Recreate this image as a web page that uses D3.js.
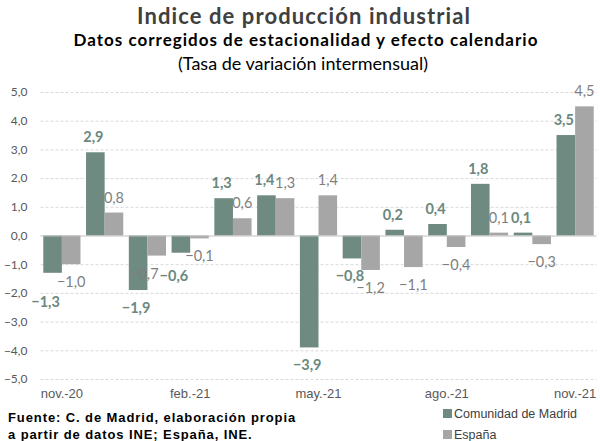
<html>
<head>
<meta charset="UTF-8">
<script src="https://cdn.jsdelivr.net/npm/d3@7"></script>
<style>
  body { margin: 0; background: #fff; }
  svg { display: block; }
  .grid line { stroke: #d9d9d9; stroke-dasharray: 3,2; }
  .tick text { fill: #595959; }
</style>
</head>
<body>
<script>
  // Months and series (tasa intermensual, %)
  let months = ["nov.-20","dic.-20","ene.-21","feb.-21","mar.-21","abr.-21","may.-21",
                "jun.-21","jul.-21","ago.-21","sep.-21","oct.-21","nov.-21"];
  let madrid = [-1.3, 2.9, -1.9, -0.6, 1.3, 1.4, -3.9, -0.8, 0.2, 0.4, 1.8, 0.1, 3.5];
  let espana = [-1.0, 0.8, -0.7, -0.1, 0.6, 1.3, 1.4, -1.2, -1.1, -0.4, 0.1, -0.3, 4.5];
  let yTicks = [-5, -4, -3, -2, -1, 0, 1, 2, 3, 4, 5];
  let xLabels = ["nov.-20", "feb.-21", "may.-21", "ago.-21", "nov.-21"];
  let seriesNames = ["Comunidad de Madrid", "España"];
  let colors = ["#6f8a80", "#a6a6a6"];
  let labelColors = ["#6b887e", "#7f7f7f"];

  let W = 600, H = 441;
  let plot = {left: 40.5, right: 596.5, top: 92, bottom: 379};

  let svg = d3.select("body").append("svg")
    .attr("width", W).attr("height", H);

  // Titles
  svg.append("text")
    .attr("x", 304).attr("y", 24)
    .attr("text-anchor", "middle")
    .style("font", "bold 22px Lato")
    .style("letter-spacing", "1.1px")
    .style("fill", "#404040")
    .text("Indice de producción industrial");
  svg.append("text")
    .attr("x", 306).attr("y", 46)
    .attr("text-anchor", "middle")
    .style("font", "bold 17px Lato")
    .style("letter-spacing", "1px")
    .style("fill", "#000")
    .text("Datos corregidos de estacionalidad y efecto calendario");
  svg.append("text")
    .attr("x", 303).attr("y", 70)
    .attr("text-anchor", "middle")
    .style("font", "18px Lato")
    .style("fill", "#000")
    .text("(Tasa de variación intermensual)");

  let x = d3.scaleBand().domain(months).range([plot.left, plot.right]).paddingInner(0.13).paddingOuter(0.065);
  let xs = d3.scaleBand().domain([0, 1]).range([0, x.bandwidth()]);
  let y = d3.scaleLinear().domain([-5, 5]).range([plot.bottom, plot.top]);

  // Gridlines
  svg.append("g").attr("class", "grid")
    .selectAll("line").data(yTicks.filter(d => d !== 0)).enter().append("line")
      .attr("x1", plot.left).attr("x2", plot.right)
      .attr("y1", d => y(d) + 0.5).attr("y2", d => y(d) + 0.5);

  // Y axis labels
  let yAxis = svg.append("g")
    .attr("transform", "translate(" + plot.left + ",0)")
    .call(d3.axisLeft(y).tickValues(yTicks).tickSize(0).tickPadding(13)
      .tickFormat(d => d3.format(".1f")(d).replace(".", ",")));
  yAxis.select(".domain").remove();
  yAxis.selectAll("text").style("font", "12px Lato");

  // Bars
  let series = [madrid, espana];
  series.forEach(function(vals, s) {
    svg.append("g").selectAll("rect").data(vals).enter().append("rect")
      .attr("x", (d, i) => x(months[i]) + xs(s))
      .attr("width", xs.bandwidth())
      .attr("y", d => y(Math.max(0, d)))
      .attr("height", d => Math.abs(y(d) - y(0)))
      .style("fill", colors[s]);
  });

  // Zero line
  svg.append("line")
    .attr("x1", plot.left).attr("x2", plot.right)
    .attr("y1", y(0) + 0.5).attr("y2", y(0) + 0.5)
    .style("stroke", "#bfbfbf").style("stroke-width", 1.2);

  // Data labels (outside end of each bar)
  let labelGroups = series.map(function(vals, s) {
    return svg.append("g").selectAll("text").data(vals).enter().append("text")
      .attr("x", (d, i) => x(months[i]) + xs(s) + xs.bandwidth() / 2 + (s === 0 ? -2 : 0))
      .attr("y", d => d >= 0 ? y(d) - 10 : y(d) + 23)
      .attr("text-anchor", "middle")
      .style("font", (s === 0 ? "bold " : "") + "14.5px Lato")
      .style("fill", labelColors[s])
      .text(d => d3.format(".1f")(d).replace(".", ","));
  });

  function overlaps(a, b) {
    return a.x < b.x + b.width && b.x < a.x + a.width && a.y < b.y + b.height && b.y < a.y + a.height;
  }

  let mNodes = labelGroups[0].nodes(), eNodes = labelGroups[1].nodes();
  // same month: push the Madrid label further out
  mNodes.forEach(function(m, i) {
    let a = m.getBBox(), b = eNodes[i].getBBox();
    if (overlaps(a, b) && madrid[i] < 0 && madrid[i] < espana[i]) {
      m.setAttribute("y", +m.getAttribute("y") + (b.y + b.height - a.y + 3));
      m.setAttribute("x", +m.getAttribute("x") - 5);
    }
  });
  // neighbouring months: slide the España label left
  eNodes.forEach(function(e, i) {
    if (i + 1 >= mNodes.length) return;
    let a = e.getBBox(), b = mNodes[i + 1].getBBox();
    if (overlaps(a, b)) e.setAttribute("x", +e.getAttribute("x") - (a.x + a.width - b.x + 1));
  });

  // X axis labels
  let xAxis = svg.append("g")
    .attr("transform", "translate(0," + plot.bottom + ")")
    .call(d3.axisBottom(x).tickValues(xLabels).tickSize(0).tickPadding(10));
  xAxis.select(".domain").remove();
  xAxis.selectAll("text").style("font", "13px 'Liberation Sans'");

  // Source note
  let note = svg.append("text")
    .attr("x", 8).attr("y", 422)
    .style("font", "bold 13px 'Liberation Sans'")
    .style("letter-spacing", "0.9px")
    .style("fill", "#000");
  note.append("tspan").attr("x", 8).text("Fuente:  C. de Madrid, elaboración propia");
  note.append("tspan").attr("x", 8).attr("dy", 17).text("a partir de datos INE;  España, INE.");

  // Legend
  let legend = svg.selectAll(".legend").data(seriesNames).enter().append("g")
    .attr("class", "legend")
    .attr("transform", (d, i) => "translate(443," + (409 + i * 21) + ")");
  legend.append("rect")
    .attr("width", 9).attr("height", 9)
    .style("fill", (d, i) => colors[i]);
  legend.append("text")
    .attr("x", 11).attr("y", 9)
    .style("font", "12.5px 'Liberation Sans'")
    .style("fill", "#404040")
    .text(d => d);
</script>
</body>
</html>
